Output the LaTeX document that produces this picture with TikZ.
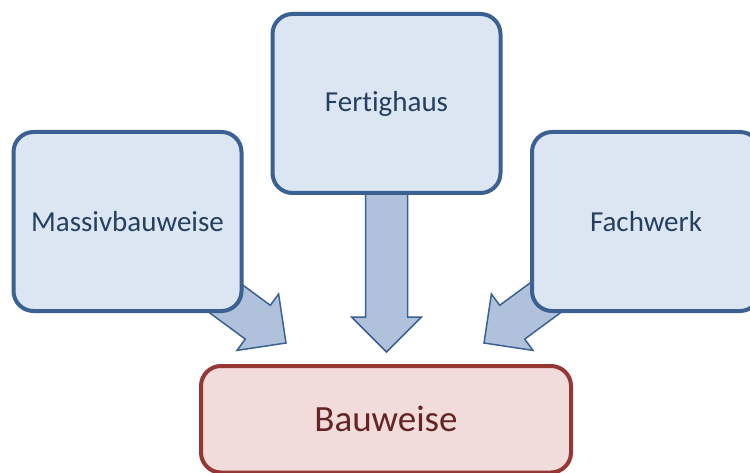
\documentclass[tikz,border=0pt]{standalone}
\usepackage{fontspec}
\setmainfont[Ligatures=NoCommon]{Carlito}
\definecolor{boxfill}{HTML}{DCE6F2}
\definecolor{boxline}{HTML}{3A6191}
\definecolor{boxtext}{HTML}{243F60}
\definecolor{arrfill}{HTML}{B0C1DC}
\definecolor{redfill}{HTML}{F2DCDB}
\definecolor{redline}{HTML}{953735}
\definecolor{redtext}{HTML}{632523}
\begin{document}
\begin{tikzpicture}[x=1pt,y=-1pt,
  srcbox/.style={draw=boxline, fill=boxfill, line width=4pt, rounded corners=20pt,
    minimum width=228pt, minimum height=179pt, inner sep=0pt, text=boxtext,
    font=\fontsize{29}{35}\selectfont},
  tgtbox/.style={draw=redline, fill=redfill, line width=4pt, rounded corners=20pt,
    minimum width=370pt, minimum height=106.5pt, inner sep=0pt, text=redtext,
    font=\fontsize{37}{44}\selectfont},
  blockarrow/.style={draw=boxline, fill=arrfill, line width=1.5pt, line join=miter}]
\useasboundingbox (0,0) rectangle (750,473);
\clip (0,0) rectangle (750,473);
% block arrows (drawn first, shafts hidden behind boxes)
\coordinate (tipL) at (286,343);
\coordinate (tipM) at (386.5,352);
\coordinate (tipR) at (484,343);
\draw[blockarrow] (168.8,282.8) -- (245.3,339.1) -- (237,350.4) -- (tipL) -- (278.6,294) -- (270.3,305.3) -- (193.8,249) -- cycle;
\draw[blockarrow] (365.5,150) -- (365.5,317) -- (351.5,317) -- (tipM) -- (421.5,317) -- (407.5,317) -- (407.5,150) -- cycle;
\draw[blockarrow] (601.2,282.8) -- (524.7,339.1) -- (533,350.4) -- (tipR) -- (491.4,294) -- (499.7,305.3) -- (576.2,249) -- cycle;
% boxes
\node[srcbox] (massiv) at (127.5,221.5) {Massivbauweise};
\node[srcbox] (fertig) at (386.5,103.5) {Fertighaus};
\node[srcbox] (fach) at (646,221.5) {Fachwerk};
\node[tgtbox] (bau) at (386,419.25) {Bauweise};
\end{tikzpicture}
\end{document}
